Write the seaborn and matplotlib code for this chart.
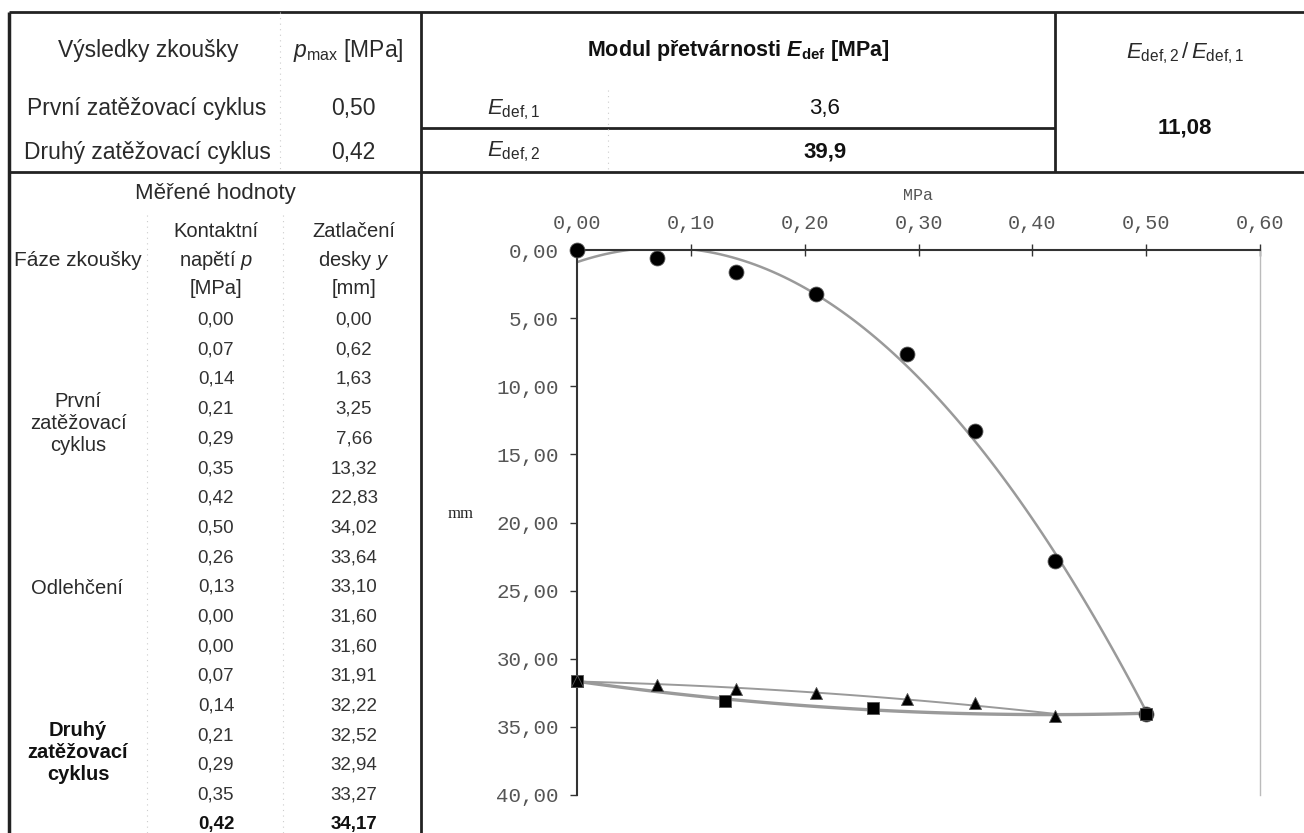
import numpy as np
import pandas as pd
import matplotlib
matplotlib.use("Agg")
import matplotlib.pyplot as plt
import seaborn as sns
from matplotlib.ticker import FuncFormatter

# naměřené hodnoty
p_cyklus1 = [0.00, 0.07, 0.14, 0.21, 0.29, 0.35, 0.42, 0.50]
y_cyklus1 = [0.00, 0.62, 1.63, 3.25, 7.66, 13.32, 22.83, 34.02]
p_odlehceni = [0.26, 0.13, 0.00]
y_odlehceni = [33.64, 33.10, 31.60]
p_cyklus2 = [0.00, 0.07, 0.14, 0.21, 0.29, 0.35, 0.42]
y_cyklus2 = [31.60, 31.91, 32.22, 32.52, 32.94, 33.27, 34.17]

p_max = [0.50, 0.42]
e_def = [3.6, 39.9]
pomer = 11.08


def cz(v, n=2):
    return f"{v:.{n}f}".replace(".", ",")


sns.set_style("white")
plt.rcParams["font.family"] = ["Liberation Sans", "DejaVu Sans"]
plt.rcParams["mathtext.fontset"] = "custom"
plt.rcParams["mathtext.rm"] = "Liberation Sans"
plt.rcParams["mathtext.it"] = "Liberation Sans:italic"
plt.rcParams["mathtext.bf"] = "Liberation Sans:bold"
plt.rcParams["mathtext.bfit"] = "Liberation Sans:bold:italic"

fig = plt.figure(figsize=(13.04, 8.33), dpi=100)

# tabulka - kreslí se v pixelech
bg = fig.add_axes([0, 0, 1, 1])
bg.set_xlim(0, 1304)
bg.set_ylim(833, 0)
bg.axis("off")


def cara(x0, y0, x1, y1, lw=2.0, color="#222222", ls="-"):
    bg.plot([x0, x1], [y0, y1], color=color, lw=lw, ls=ls, solid_capstyle="butt")


cara(9, 12, 1304, 12)
cara(9, 12, 9, 833, lw=2.5)
cara(421, 12, 421, 833)
cara(1055, 12, 1055, 172)
cara(421, 128, 1055, 128)
cara(9, 172, 1304, 172)
for x, y0, y1 in [(280, 12, 172), (608, 90, 172), (147, 215, 833), (283, 215, 833)]:
    cara(x, y0, x, y1, lw=0.8, color="#cccccc", ls=(0, (1, 4)))

txt = dict(ha="center", va="center", color="#2a2a2a", fontsize=16.5)
bg.text(148, 50, "Výsledky zkoušky", **txt)
bg.text(348, 50, r"$p_{\rm max}$ [MPa]", **txt)
bg.text(147, 108, "První zatěžovací cyklus", **txt)
bg.text(147, 152, "Druhý zatěžovací cyklus", **txt)
bg.text(353, 108, cz(p_max[0]), **txt)
bg.text(353, 152, cz(p_max[1]), **txt)
bg.text(738, 50, r"Modul přetvárnosti $\mathbfit{E}_{\mathbf{def}}$ [MPa]",
        ha="center", va="center", color="#111111", fontsize=15.5, fontweight="bold")
bg.text(487, 110, r"$E_{\rm def,1}$", ha="left", va="center", color="#2a2a2a", fontsize=16)
bg.text(487, 152, r"$E_{\rm def,2}$", ha="left", va="center", color="#2a2a2a", fontsize=16)
bg.text(825, 108, cz(e_def[0], 1), ha="center", va="center", color="#111111", fontsize=16)
bg.text(825, 152, cz(e_def[1], 1), ha="center", va="center", color="#111111",
        fontsize=16, fontweight="bold")
bg.text(1185, 53, r"$E_{\rm def,2}\,/\,E_{\rm def,1}$", ha="center", va="center",
        color="#2a2a2a", fontsize=16)
bg.text(1185, 128, cz(pomer), ha="center", va="center", color="#111111",
        fontsize=16, fontweight="bold")

bg.text(215, 193, "Měřené hodnoty", ha="center", va="center", color="#2a2a2a", fontsize=16)
bg.text(78, 260, "Fáze zkoušky", ha="center", va="center", color="#2a2a2a", fontsize=15)
hl = dict(ha="center", va="center", color="#2a2a2a", fontsize=14.5, linespacing=1.45)
bg.text(216, 260, "Kontaktní\n" + r"napětí $p$" + "\n[MPa]", **hl)
bg.text(354, 260, "Zatlačení\n" + r"desky $y$" + "\n[mm]", **hl)

tab_p = p_cyklus1 + p_odlehceni + p_cyklus2
tab_y = y_cyklus1 + y_odlehceni + y_cyklus2
for i, (p, y) in enumerate(zip(tab_p, tab_y)):
    posl = i == len(tab_p) - 1
    kw = dict(ha="center", va="center", fontsize=13.5,
              color="#111111" if posl else "#333333",
              fontweight="bold" if posl else "normal")
    bg.text(216, 320 + i * 29.7, cz(p), **kw)
    bg.text(354, 320 + i * 29.7, cz(y), **kw)

bg.text(78, 423, "První\nzatěžovací\ncyklus", **dict(hl, linespacing=1.2))
bg.text(77, 588, "Odlehčení", **hl)
bg.text(78, 752, "Druhý\nzatěžovací\ncyklus", ha="center", va="center", color="#111111",
        fontsize=14.5, fontweight="bold", linespacing=1.2)

# graf
df = pd.concat([
    pd.DataFrame({"p": p_cyklus1, "y": y_cyklus1, "faze": "1"}),
    pd.DataFrame({"p": [p_cyklus1[-1]] + p_odlehceni,
                  "y": [y_cyklus1[-1]] + y_odlehceni, "faze": "odl"}),
    pd.DataFrame({"p": p_cyklus2, "y": y_cyklus2, "faze": "2"}),
], ignore_index=True)

ax = fig.add_axes([577 / 1304, 1 - 795 / 833, (1260 - 577) / 1304, (795 - 250) / 833])
ax.patch.set_alpha(0)

for faze, lw in [("1", 1.8), ("odl", 2.4), ("2", 1.4)]:
    sns.regplot(data=df[df["faze"] == faze], x="p", y="y", order=2, ci=None,
                scatter=False, ax=ax, line_kws={"color": "#9a9a9a", "lw": lw})

for faze, m, s in [("1", "o", 115), ("odl", "s", 85), ("2", "^", 75)]:
    sns.scatterplot(data=df[df["faze"] == faze], x="p", y="y", marker=m, s=s,
                    color="black", edgecolor="#555555", linewidth=0.6, ax=ax,
                    zorder=3, clip_on=False)

ax.set_xlim(0, 0.6)
ax.set_ylim(40, 0)
ax.set_xticks(np.arange(0, 0.61, 0.1))
ax.set_yticks(np.arange(0, 40.1, 5))
ax.xaxis.tick_top()
ax.xaxis.set_label_position("top")
fmt = FuncFormatter(lambda v, _: cz(v))
ax.xaxis.set_major_formatter(fmt)
ax.yaxis.set_major_formatter(fmt)
ax.tick_params(axis="x", direction="inout", length=9, width=1, color="#333333",
               labelcolor="#555555", labelsize=14.5, pad=8)
ax.tick_params(axis="y", direction="out", length=5, width=1, color="#333333",
               labelcolor="#555555", labelsize=15, pad=8, left=True)
for lab in ax.get_xticklabels() + ax.get_yticklabels():
    lab.set_family("Liberation Mono")

ax.spines["top"].set_color("#333333")
ax.spines["top"].set_linewidth(1.5)
ax.spines["left"].set_color("#333333")
ax.spines["left"].set_linewidth(1.5)
ax.spines["right"].set_color("#bbbbbb")
ax.spines["right"].set_linestyle((0, (1, 1)))
ax.spines["right"].set_linewidth(1)
ax.spines["bottom"].set_visible(False)

ax.set_xlabel("MPa", fontsize=12, family="Liberation Mono", color="#555555", labelpad=10)
ax.set_ylabel("mm", fontsize=12, family="Liberation Serif", color="#222222",
              rotation=0, labelpad=38)
ax.yaxis.set_label_coords(-0.17, 0.5)

fig.savefig("out.png", dpi=100)
